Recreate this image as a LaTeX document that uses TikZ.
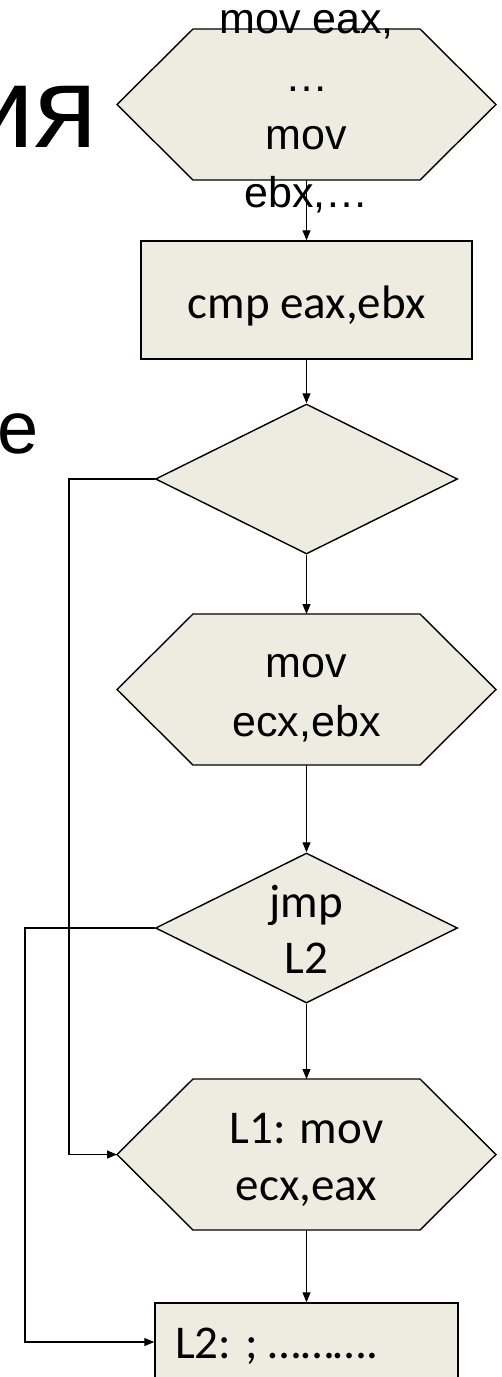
\documentclass[tikz,border=0pt]{standalone}
\usepackage{fontspec}
\setmainfont{Liberation Sans}
\newfontfamily\arfont{Liberation Sans}
\newfontfamily\calfont{Carlito}
\usetikzlibrary{shapes.geometric,arrows.meta}
\definecolor{shapefill}{HTML}{EEECE1}

% hexagon outline drawn round an invisible frame node
\newcommand{\drawhex}[1]{%
  \path[outline] (#1.west) -- ([xshift=76pt]#1.north west) -- ([xshift=-76pt]#1.north east)
    -- (#1.east) -- ([xshift=-76pt]#1.south east) -- ([xshift=76pt]#1.south west) -- cycle;}

\begin{document}
\begin{tikzpicture}[x=1pt,y=-1pt,
  outline/.style={draw=black,line width=1.4pt,fill=shapefill,line join=miter},
  hexframe/.style={draw=none,inner sep=0pt,outer sep=0pt,minimum width=379pt,minimum height=151pt},
  decision/.style={outline,diamond,inner sep=0pt,minimum width=302pt,minimum height=150pt},
  procbox/.style={outline,rectangle,inner sep=0pt},
  arialtext/.style={font=\arfont\fontsize{43}{58}\selectfont,align=center,inner sep=0pt},
  calibtext/.style={font=\calfont\fontsize{47}{57}\selectfont,align=center,inner sep=0pt},
  calibline/.style={font=\calfont\fontsize{47}{57}\selectfont,inner sep=0pt},
  flow/.style={draw=black,line width=1.1pt,-{Triangle[length=10pt,width=8pt]}}
]
\useasboundingbox (0,0) rectangle (502,1377);

% slide text at the left edge
\node[font=\arfont\fontsize{116}{116}\selectfont,anchor=base east,inner sep=0pt] (ttl) at (97,147) {ия};
\node[font=\arfont\fontsize{74}{74}\selectfont,anchor=base east,inner sep=0pt] (bdy) at (39,453) {е};

% shapes
\node[hexframe] (h1) at (306.5,104.5) {};
\drawhex{h1}
\node[procbox,minimum width=331pt,minimum height=118pt] (b1) at (306.5,300) {};
\node[decision] (d1) at (306.5,479) {};
\node[hexframe] (h2) at (306.5,689.5) {};
\drawhex{h2}
\node[decision] (d2) at (306.5,928) {};
\node[hexframe] (h3) at (306.5,1154.5) {};
\drawhex{h3}
\node[procbox,minimum width=303pt,minimum height=78pt] (b2) at (306.5,1342) {};

% labels
\node[arialtext] (t1) at (306.5,112) {mov eax,\\…\\mov\\ebx,…};
\node[calibline,anchor=base] (t2) at (306.5,318) {cmp eax,ebx};
\node[arialtext,font=\arfont\fontsize{43}{59}\selectfont] (t3) at (306.5,698.5) {mov\\ecx,ebx};
\node[calibtext,font=\calfont\fontsize{47}{56}\selectfont] (t4) at (306.5,929.5) {jmp\\L2};
\node[calibtext] (t5) at (306.5,1159.5) {L1: mov\\ecx,eax};
\node[calibline,anchor=base west] (t6) at (175,1358) {L2: ; ……….};

% connectors
\coordinate (j1) at (69,479);
\coordinate (j2) at (25,928);
\draw[flow] (h1.south) -- (b1.north);
\draw[flow] (b1.south) -- (d1.north);
\draw[flow] (d1.south) -- (h2.north);
\draw[flow] (h2.south) -- (d2.north);
\draw[flow] (d2.south) -- (h3.north);
\draw[flow] (h3.south) -- (b2.north);
\draw[flow] (d1.west) -- (j1) |- (h3.west);
\draw[flow] (d2.west) -- (j2) |- (b2.west);
\end{tikzpicture}
\end{document}
